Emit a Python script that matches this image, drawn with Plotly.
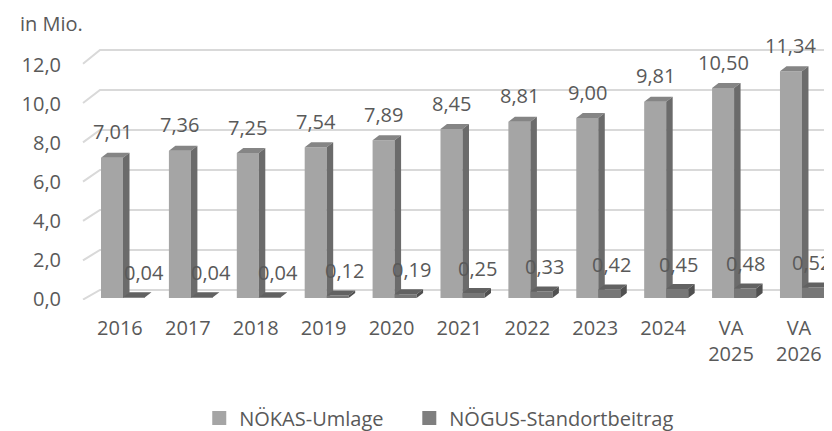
import plotly.graph_objects as go

# data
categories = ["2016", "2017", "2018", "2019", "2020", "2021", "2022", "2023", "2024",
              "VA<br>2025", "VA<br>2026"]
nokas_umlage = [7.01, 7.36, 7.25, 7.54, 7.89, 8.45, 8.81, 9.00, 9.81, 10.50, 11.34]
nogus_beitrag = [0.04, 0.04, 0.04, 0.12, 0.19, 0.25, 0.33, 0.42, 0.45, 0.48, 0.52]
y_ticks = [0, 2, 4, 6, 8, 10, 12]

FONT = "Open Sans"
TXT = "#595959"

# pseudo-3d geometry in axis units (x: 1 unit = one category, y: value)
BW = 0.324           # front face width of one column
DXB, DYB = 0.0957, 0.25   # column depth offset
GX0, GX1, GXR = -0.589, -0.339, 10.38   # gridline front / back / right end
GDY = 0.4            # back wall lift

def fmt(v, d=2):
    return f"{v:.{d}f}".replace(".", ",")


def faces(xs_left, vals):
    front, top, side = [], [], []
    for xl, v in zip(xs_left, vals):
        xr = xl + BW
        front += [(xl, 0), (xr, 0), (xr, v), (xl, v), (xl, 0), (None, None)]
        top += [(xl, v), (xr, v), (xr + DXB, v + DYB), (xl + DXB, v + DYB), (xl, v), (None, None)]
        side += [(xr, 0), (xr + DXB, DYB), (xr + DXB, v + DYB), (xr, v), (xr, 0), (None, None)]
    return front, top, side


def poly(pts, color):
    return go.Scatter(x=[p[0] for p in pts], y=[p[1] for p in pts], mode="lines",
                      fill="toself", fillcolor=color, line=dict(width=0),
                      hoverinfo="skip", showlegend=False)


idx = list(range(len(categories)))
fig = go.Figure()

# back wall gridlines
gx, gy = [], []
for v in y_ticks:
    gx += [GX0, GX1, GXR, None]
    gy += [v * 0.983 - 0.08, v + GDY, v + GDY, None]
fig.add_trace(go.Scatter(x=gx, y=gy, mode="lines", line=dict(color="#d9d9d9", width=2),
                         hoverinfo="skip", showlegend=False))

f1, t1, s1 = faces([i - BW for i in idx], nokas_umlage)
f2, t2, s2 = faces(idx, nogus_beitrag)
for pts, col in [(f1, "#a5a5a5"), (t1, "#858585"), (s1, "#6b6b6b"),
                 (f2, "#777777"), (t2, "#626262"), (s2, "#505050")]:
    fig.add_trace(poly(pts, col))

# legend entries (trailing no-break spaces widen the gap between items)
fig.add_trace(go.Scatter(x=[None], y=[None], mode="markers", name="NÖKAS-Umlage\u00a0\u00a0\u00a0\u00a0",
                         marker=dict(symbol="square", size=14, color="#a5a5a5"), yaxis="y2"))
fig.add_trace(go.Scatter(x=[None], y=[None], mode="markers", name="NÖGUS-Standortbeitrag",
                         marker=dict(symbol="square", size=14, color="#7f7f7f"), yaxis="y2"))

# value labels
for i, v in zip(idx, nokas_umlage):
    fig.add_annotation(x=i - BW / 2, y=v, text=fmt(v), showarrow=False, yshift=26,
                       font=dict(family=FONT, size=20, color=TXT))
for i, v in zip(idx, nogus_beitrag):
    # labels drift left towards the right side (perspective of the original)
    fig.add_annotation(x=i + BW / 2, y=v, text=fmt(v), showarrow=False, yshift=25,
                       xshift=10 - 1.1 * i, font=dict(family=FONT, size=20, color=TXT))

fig.add_annotation(xref="paper", yref="paper", x=-0.0827, y=1.065, xanchor="left",
                   yanchor="middle", text="in Mio.", showarrow=False,
                   font=dict(family=FONT, size=20, color=TXT))

# page body adds 8px offset, so the figure is 8px smaller and margins shifted
fig.update_layout(
    width=824, height=423,
    margin=dict(l=72, r=2, t=32, b=131, autoexpand=False),
    paper_bgcolor="white", plot_bgcolor="white",
    font=dict(family=FONT, size=20, color=TXT),
    showlegend=True,
    legend=dict(orientation="h", x=0.479, xanchor="center", y=-0.454, yanchor="middle",
                font=dict(family=FONT, size=20, color=TXT), itemwidth=30),
    xaxis=dict(range=[-0.6333, 10.4127], tickvals=[i - 0.045 for i in idx], ticktext=categories,
               showgrid=False, zeroline=False, showline=False, ticks="", automargin=False,
               ticklabelstandoff=14, tickfont=dict(family=FONT, size=20, color=TXT)),
    yaxis=dict(range=[-0.1, 12.9], showgrid=False, zeroline=False, showticklabels=False,
               automargin=False),
    yaxis2=dict(range=[-0.051, 13.28], overlaying="y", side="left", tickvals=y_ticks,
                ticktext=[fmt(v, 1) for v in y_ticks], showgrid=False, zeroline=False,
                automargin=False, ticklabelstandoff=18,
                tickfont=dict(family=FONT, size=20, color=TXT)),
)

fig.write_html("out.html")
